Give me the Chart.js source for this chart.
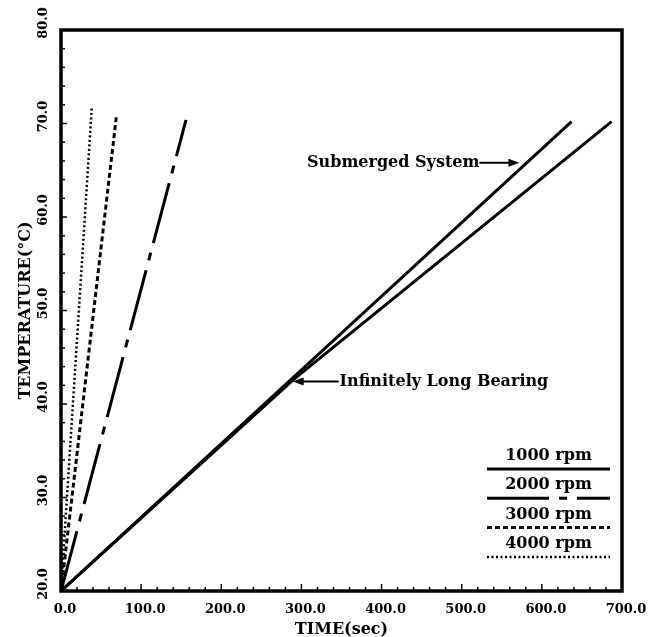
<!DOCTYPE html>
<html>
<head>
<meta charset="utf-8">
<script src="https://cdn.jsdelivr.net/npm/chart.js@4"></script>
<style>
  html, body { margin: 0; padding: 0; background: #fff; }
  canvas { display: block; }
</style>
</head>
<body>
<canvas id="tempChart" width="659" height="637"></canvas>
<script>
// values (time in sec, temperature in deg C)
const submergedTime = [0, 637];
const submergedTemp = [20, 70.2];
const infiniteTime = [0, 290, 687];
const infiniteTemp = [20, 42.6, 70.2];
const rpm2000Time = [0, 156];
const rpm2000Temp = [20, 70.4];
const rpm3000Time = [0, 69];
const rpm3000Temp = [20, 70.7];
const rpm4000Time = [0, 38.5];
const rpm4000Temp = [20, 71.8];

const xTickLabels = ['0.0', '100.0', '200.0', '300.0', '400.0', '500.0', '600.0', '700.0'];
const yTickLabels = ['20.0', '30.0', '40.0', '50.0', '60.0', '70.0', '80.0'];
const legendLabels = ['1000 rpm', '2000 rpm', '3000 rpm', '4000 rpm'];

const FONT = '"DejaVu Serif", serif';

function pts(xs, ys) {
    return xs.map((x, i) => ({ x: x, y: ys[i] }));
}

const styles = {
    solid: { borderDash: [], borderWidth: 3 },
    longDash: { borderDash: [62, 10, 8, 10], borderWidth: 3 },
    dash: { borderDash: [5, 3], borderWidth: 3 },
    dot: { borderDash: [2, 2.5], borderWidth: 2.5 }
};

function arrow(ctx, x1, y1, x2, y2) {
    const ang = Math.atan2(y2 - y1, x2 - x1);
    const len = 11, half = 4;
    ctx.beginPath();
    ctx.moveTo(x1, y1);
    ctx.lineTo(x2 - Math.cos(ang) * len * 0.8, y2 - Math.sin(ang) * len * 0.8);
    ctx.lineWidth = 2;
    ctx.stroke();
    ctx.beginPath();
    ctx.moveTo(x2, y2);
    ctx.lineTo(x2 - Math.cos(ang) * len - Math.sin(ang) * half, y2 - Math.sin(ang) * len + Math.cos(ang) * half);
    ctx.lineTo(x2 - Math.cos(ang) * len + Math.sin(ang) * half, y2 - Math.sin(ang) * len - Math.cos(ang) * half);
    ctx.closePath();
    ctx.fill();
}

const frame = {
    id: 'frame',
    afterDraw(chart) {
        const { ctx, chartArea: a, scales: { x, y } } = chart;
        ctx.save();
        ctx.strokeStyle = '#000';
        ctx.fillStyle = '#000';

        // box
        ctx.lineWidth = 3.5;
        ctx.strokeRect(a.left, a.top, a.right - a.left, a.bottom - a.top);

        // inward tick marks
        ctx.lineWidth = 1.5;
        for (let v = 0; v <= 700; v += 20) {
            const px = x.getPixelForValue(v);
            const l = v % 100 === 0 ? 7 : 4;
            ctx.beginPath();
            ctx.moveTo(px, a.bottom);
            ctx.lineTo(px, a.bottom - l);
            ctx.stroke();
        }
        for (let v = 20; v <= 80; v += 2) {
            const py = y.getPixelForValue(v);
            const l = v % 10 === 0 ? 6 : 4;
            ctx.beginPath();
            ctx.moveTo(a.left, py);
            ctx.lineTo(a.left + l, py);
            ctx.stroke();
        }

        // tick labels
        ctx.font = 'bold 13px ' + FONT;
        ctx.textAlign = 'center';
        ctx.textBaseline = 'middle';
        x.ticks.forEach((t, i) => {
            ctx.fillText(xTickLabels[i], x.getPixelForValue(t.value) + 4, a.bottom + 19);
        });
        y.ticks.forEach((t, i) => {
            ctx.save();
            ctx.translate(a.left - 17, y.getPixelForValue(t.value) - 7);
            ctx.rotate(-Math.PI / 2);
            ctx.fillText(yTickLabels[i], 0, 0);
            ctx.restore();
        });

        // axis titles
        ctx.font = 'bold 16px ' + FONT;
        ctx.fillText('TIME(sec)', (a.left + a.right) / 2, a.bottom + 39);
        ctx.save();
        ctx.translate(a.left - 35, (a.top + a.bottom) / 2);
        ctx.rotate(-Math.PI / 2);
        ctx.fillText('TEMPERATURE(°C)', 0, 0);
        ctx.restore();

        // annotations
        const sx = x.getPixelForValue(572), sy = y.getPixelForValue(65.8);
        arrow(ctx, sx - 40, sy, sx, sy);
        ctx.textAlign = 'right';
        ctx.fillText('Submerged System', sx - 40, sy);

        const ix = x.getPixelForValue(289), iy = y.getPixelForValue(42.4);
        arrow(ctx, ix + 46, iy, ix, iy);
        ctx.textAlign = 'left';
        ctx.fillText('Infinitely Long Bearing', ix + 47, iy);

        // legend
        const legendStyles = [styles.solid, styles.longDash, styles.dash, styles.dot];
        const lx1 = a.right - 135, lx2 = a.right - 12;
        legendLabels.forEach((lab, i) => {
            const ty = a.bottom - 135 + i * 29.3;
            ctx.textAlign = 'center';
            ctx.fillText(lab, (lx1 + lx2) / 2, ty);
            ctx.beginPath();
            ctx.setLineDash(legendStyles[i].borderDash);
            ctx.lineWidth = legendStyles[i].borderWidth;
            ctx.moveTo(lx1, ty + 13);
            ctx.lineTo(lx2, ty + 13);
            ctx.stroke();
            ctx.setLineDash([]);
        });
        ctx.restore();
    }
};

new Chart(document.getElementById('tempChart'), {
    type: 'scatter',
    data: {
        datasets: [
            { label: 'Submerged System', data: pts(submergedTime, submergedTemp), ...styles.solid },
            { label: 'Infinitely Long Bearing', data: pts(infiniteTime, infiniteTemp), ...styles.solid },
            { label: '2000 rpm', data: pts(rpm2000Time, rpm2000Temp), ...styles.longDash },
            { label: '3000 rpm', data: pts(rpm3000Time, rpm3000Temp), ...styles.dash },
            { label: '4000 rpm', data: pts(rpm4000Time, rpm4000Temp), ...styles.dot }
        ].map(d => Object.assign(d, {
            showLine: true,
            borderColor: '#000',
            backgroundColor: '#000',
            pointRadius: 0,
            fill: false,
            tension: 0
        }))
    },
    options: {
        responsive: false,
        animation: false,
        layout: { padding: { left: 61, top: 30, right: 37, bottom: 46 } },
        plugins: {
            legend: { display: false },
            tooltip: { enabled: false }
        },
        scales: {
            x: {
                type: 'linear',
                min: 0,
                max: 700,
                display: false,
                ticks: { stepSize: 100 }
            },
            y: {
                type: 'linear',
                min: 20,
                max: 80,
                display: false,
                ticks: { stepSize: 10 }
            }
        }
    },
    plugins: [frame]
});
</script>
</body>
</html>
